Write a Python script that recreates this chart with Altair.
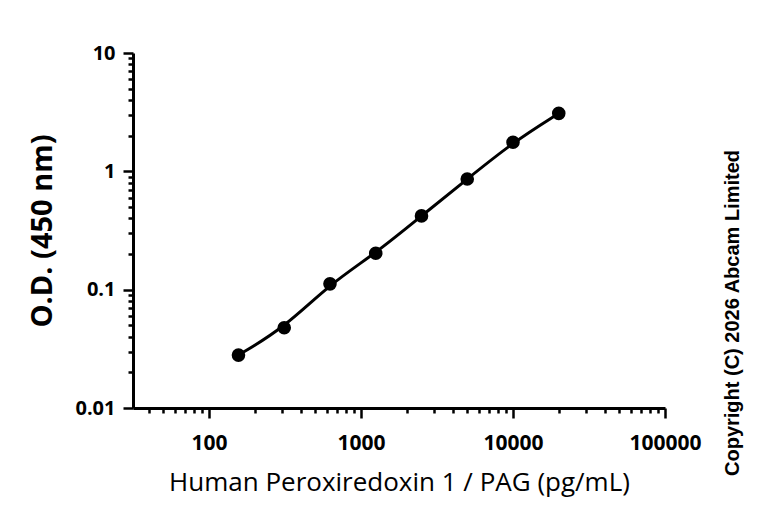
import altair as alt
import pandas as pd

# standard curve readings
conc = [156.25, 312.5, 625, 1250, 2500, 5000, 10000, 20000]
od = [0.028, 0.0477, 0.112, 0.203, 0.42, 0.861, 1.76, 3.09]

x_ticks = [40, 50, 60, 70, 80, 90,
           100, 200, 300, 400, 500, 600, 700, 800, 900,
           1000, 2000, 3000, 4000, 5000, 6000, 7000, 8000, 9000,
           10000, 20000, 30000, 40000, 50000, 60000, 70000, 80000, 90000,
           100000]
y_ticks = [0.01, 0.02, 0.03, 0.04, 0.05, 0.06, 0.07, 0.08, 0.09,
           0.1, 0.2, 0.3, 0.4, 0.5, 0.6, 0.7, 0.8, 0.9,
           1, 2, 3, 4, 5, 6, 7, 8, 9, 10]

df = pd.DataFrame({'conc': conc, 'od': od})

is_decade = 'abs(log(datum.value)/LN10 - round(log(datum.value)/LN10)) < 0.001'

x_axis = alt.Axis(
    values=x_ticks, labelExpr=is_decade + " ? format(datum.value, 'd') : ''",
    labelOverlap=False, labelFlush=False, grid=False,
    tickSize={'condition': {'test': is_decade, 'value': 10}, 'value': 5},
    tickWidth=2.5, tickColor='black', domainWidth=3, domainColor='black',
    labelFont='Open Sans', labelFontWeight='bold', labelFontSize=21, labelColor='black',
    labelPadding=14,
    titleFont='Open Sans', titleFontWeight='normal', titleFontSize=26, titleColor='black',
    titlePadding=16
)
y_axis = alt.Axis(
    values=y_ticks, labelExpr=is_decade + " ? format(datum.value, '~g') : ''",
    labelOverlap=False, labelFlush=False, grid=False,
    tickSize={'condition': {'test': is_decade, 'value': 10}, 'value': 5},
    tickWidth=2.5, tickColor='black', domainWidth=3, domainColor='black',
    labelFont='Open Sans', labelFontWeight='bold', labelFontSize=20, labelColor='black',
    labelPadding=8,
    titleFont='Open Sans', titleFontWeight='bold', titleFontSize=29, titleColor='black',
    titlePadding=17
)

x = alt.X('conc:Q', title='Human Peroxiredoxin 1 / PAG (pg/mL)',
          scale=alt.Scale(type='log', domain=[31.62, 100000], nice=False), axis=x_axis)
y = alt.Y('od:Q', title='O.D. (450 nm)',
          scale=alt.Scale(type='log', domain=[0.01, 10], nice=False), axis=y_axis)

base = alt.Chart(df).encode(x=x, y=y)
curve = base.mark_line(color='black', strokeWidth=3, interpolate='basis')
dots = base.mark_circle(color='black', size=185, opacity=1)

note = alt.Chart(pd.DataFrame({'t': ['Copyright (C) 2026 Abcam Limited']})).mark_text(
    angle=270, font='Liberation Sans', fontWeight='bold', fontSize=20, color='black',
    align='center', baseline='middle'
).encode(x=alt.value(600), y=alt.value(260), text='t:N')

chart = alt.layer(curve, dots, note).properties(
    width=532, height=355,
    autosize=alt.AutoSizeParams(type='none'),
    padding={'left': 125, 'top': 45, 'right': 95, 'bottom': 98}
).configure_view(stroke=None)

chart.save("out.html", embed_options={"renderer": "svg", "actions": False})
